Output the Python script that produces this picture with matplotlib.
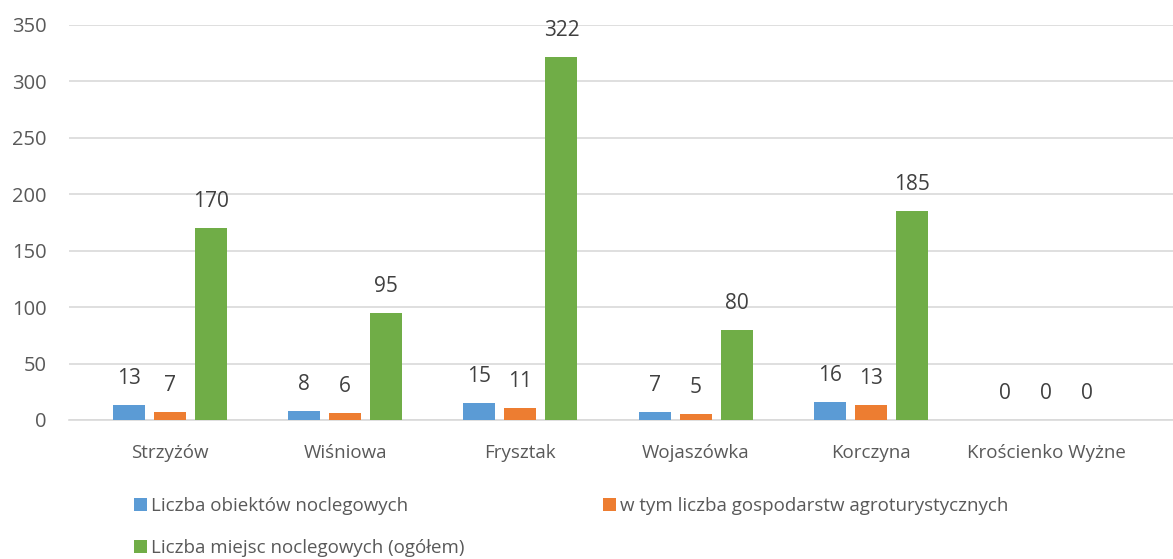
import numpy as np
import matplotlib.pyplot as plt
from matplotlib.patches import Patch

categories = ['Strzyżów', 'Wiśniowa', 'Frysztak', 'Wojaszówka', 'Korczyna', 'Krościenko Wyżne']
obiekty = [13, 8, 15, 7, 16, 0]
agro = [7, 6, 11, 5, 13, 0]
miejsca = [170, 95, 322, 80, 185, 0]
series_names = ['Liczba obiektów noclegowych',
                'w tym liczba gospodarstw agroturystycznych',
                'Liczba miejsc noclegowych (ogółem)']
colors = ['#5B9BD5', '#ED7D31', '#70AD47']

plt.rcParams['font.family'] = ['Open Sans', 'DejaVu Sans']
txt = '#595959'

fig = plt.figure(figsize=(11.73, 5.59), dpi=100)
ax = fig.add_axes([0.0588, 0.2487, 0.9412, 0.7066])

x = np.arange(len(categories))
w = 0.183
step = 0.234
for i, (vals, c) in enumerate(zip([obiekty, agro, miejsca], colors)):
    pos = x + (i - 1) * step
    ax.bar(pos, vals, width=w, color=c, zorder=3)
    for xp, v in zip(pos, vals):
        ax.annotate(str(v), (xp, v), xytext=(0, 19), textcoords='offset points',
                    ha='center', va='center', fontsize=15, color='#404040')

ax.set_xlim(-0.577, 5.725)
ax.set_ylim(0, 350)
ax.set_yticks(np.arange(0, 351, 50))
ax.set_xticks(x)
ax.set_xticklabels(categories)
ax.tick_params(axis='both', length=0, colors=txt)
ax.tick_params(axis='x', pad=17, labelsize=13.5)
ax.tick_params(axis='y', pad=16, labelsize=14.5)
ax.grid(axis='y', color='#D9D9D9', linewidth=1.2, zorder=0)
for s in ['top', 'right', 'left']:
    ax.spines[s].set_visible(False)
ax.spines['bottom'].set_color('#D9D9D9')
ax.spines['bottom'].set_linewidth(1.2)

# column-wise fill -> reorder so rows read blue, orange / green
order = [0, 2, 1]
handles = [Patch(facecolor=colors[k]) for k in order]
labels = [series_names[k] for k in order]
leg = fig.legend(handles, labels, loc='upper left', bbox_to_anchor=(0.1142, 0.111),
                 ncol=2, frameon=False, fontsize=13.5, handlelength=0.7, handleheight=0.7,
                 handletextpad=0.2, columnspacing=7.4, labelspacing=1.3, borderaxespad=0,
                 borderpad=0)
for t in leg.get_texts():
    t.set_color(txt)

fig.savefig('out.png', dpi=100)
